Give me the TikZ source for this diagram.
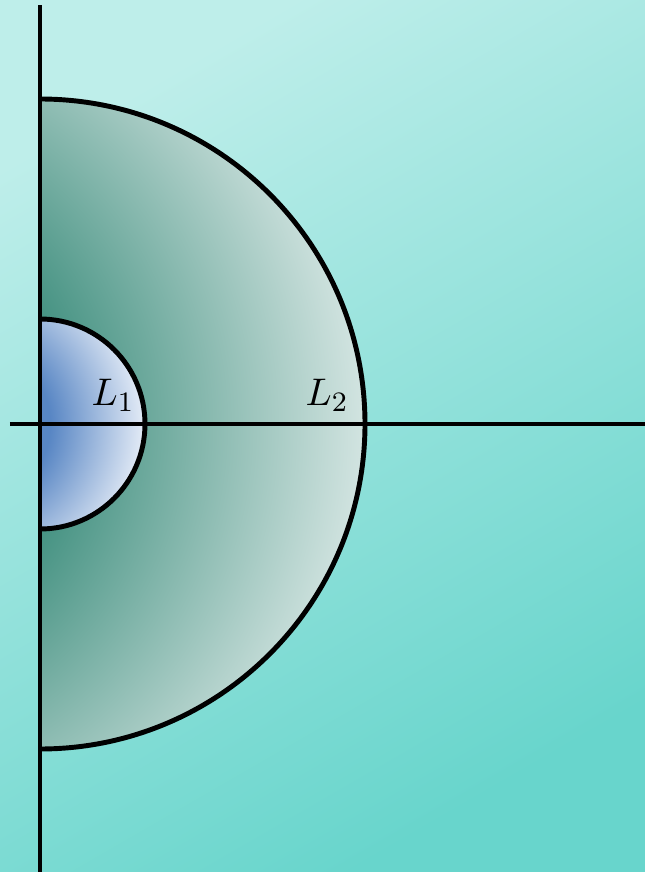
\documentclass[tikz,border=0pt]{standalone}
\usepackage{xcolor}
\usetikzlibrary{positioning}
\definecolor{bglight}{RGB}{190,238,234}
\definecolor{bgdark}{RGB}{104,213,204}
\definecolor{bigin}{RGB}{72,148,132}
\definecolor{bigout}{RGB}{212,229,226}
\definecolor{smallin}{RGB}{88,134,196}
\definecolor{smallout}{RGB}{230,237,247}
\pgfdeclareradialshading{bigshade}{\pgfpoint{0bp}{0bp}}{%
  color(0bp)=(bigin); color(11bp)=(bigin);
  color(25bp)=(bigout); color(50bp)=(bigout)}
\pgfdeclareradialshading{smallshade}{\pgfpoint{0bp}{0bp}}{%
  color(0bp)=(smallin); color(11bp)=(smallin);
  color(25bp)=(smallout); color(50bp)=(smallout)}

\begin{document}
\begin{tikzpicture}[font=\fontsize{11}{13}\selectfont,
      axis/.style={line width=1.4pt},
      rim/.style={line width=1.4pt}]
    % frame and background
    \useasboundingbox (-0.40,-4.48) rectangle (6.05,4.24);
    \shade[top color=bglight, bottom color=bgdark, shading angle=30]
      (-0.40,-4.48) rectangle (6.05,4.24);
    % outer half disc, shading centred left of the axis
    \begin{scope}
      \clip (0,-3.25) arc[start angle=-90, end angle=90, radius=3.25] -- cycle;
      \shade[shading=bigshade] (-2.0,0) circle (5.28);
    \end{scope}
    \draw[rim] (0,3.25) arc[start angle=90, end angle=-90, radius=3.25];
    % inner half disc
    \begin{scope}
      \clip (0,-1.05) arc[start angle=-90, end angle=90, radius=1.05] -- cycle;
      \shade[shading=smallshade] (-0.65,0) circle (1.71);
    \end{scope}
    \draw[rim] (0,1.05) arc[start angle=90, end angle=-90, radius=1.05];
    % axes
    \coordinate (ytop) at (0,4.19);
    \coordinate (ybot) at (0,-4.48);
    \coordinate (xleft) at (-0.30,0);
    \coordinate (xright) at (6.05,0);
    \draw[axis] (ybot) -- (ytop);
    \draw[axis] (xleft) -- (xright);
    % labels
    \node (lone) at (0.73,0.29) {$L_1$};
    \node (ltwo) at (2.87,0.29) {$L_2$};
  \end{tikzpicture}
\end{document}
